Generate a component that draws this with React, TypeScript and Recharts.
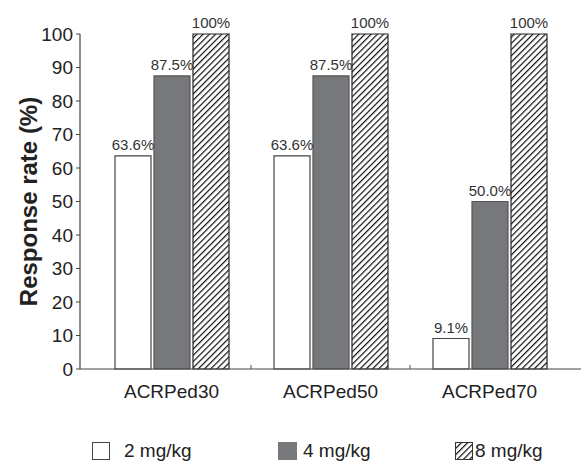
import React from 'react';
import { BarChart, Bar, XAxis, YAxis, LabelList, Legend } from 'recharts';

const categories = ['ACRPed30', 'ACRPed50', 'ACRPed70'];
const dose2 = [63.6, 63.6, 9.1];
const dose4 = [87.5, 87.5, 50.0];
const dose8 = [100, 100, 100];
const seriesNames = ['2 mg/kg', '4 mg/kg', '8 mg/kg'];
const yTicks = [0, 10, 20, 30, 40, 50, 60, 70, 80, 90, 100];

const data = categories.map((name, i) => ({
  name,
  d2: dose2[i],
  d4: dose4[i],
  d8: dose8[i],
}));

const FONT = '"Liberation Sans", Arial, Helvetica, sans-serif';
const GRAY = '#77787b';
const CHART_W = 581;
const Y_W = 80;
const X_PAD = 12;

const fmt = (v: number) => (v === 100 ? '100%' : v.toFixed(1) + '%');

const YLabel = (props: any) => {
  const vb = props.viewBox || { x: 0, y: 0, height: 0 };
  const cx = 37;
  const cy = vb.y + vb.height / 2;
  return (
    <text
      x={cx}
      y={cy}
      transform={`rotate(-90 ${cx} ${cy})`}
      textAnchor="middle"
      fontFamily={FONT}
      fontWeight="bold"
      fontSize={24}
      fill="#222"
    >
      Response rate (%)
    </text>
  );
};

// category label plus a small inward tick at the right edge of each band (except the last)
const CatTick = (props: any) => {
  const { payload } = props;
  const x = Number(props.x);
  const y = Number(props.y);
  const idx = categories.indexOf(payload.value);
  let half = Number(payload.offset);
  if (!Number.isFinite(half) || half <= 0) {
    const w = Number(props.width);
    half = (Number.isFinite(w) && w > 0 ? w - 2 * X_PAD : CHART_W - Y_W - 2 * X_PAD) / categories.length / 2;
  }
  const axisY = y - 16;
  const tx = x + half;
  return (
    <g>
      {idx >= 0 && idx < categories.length - 1 && (
        <line x1={tx} x2={tx} y1={axisY} y2={axisY - 4} stroke="#555" strokeWidth={1} />
      )}
      <text x={x} y={y} dy="0.71em" textAnchor="middle" fontFamily={FONT} fontSize={19} fill="#222">
        {payload.value}
      </text>
    </g>
  );
};

const Swatch = ({ kind }: { kind: number }) => (
  <svg width={19} height={18} style={{ display: 'block' }}>
    <defs>
      <pattern id="lg-hatch" patternUnits="userSpaceOnUse" width={4.4} height={4.4} patternTransform="rotate(45)">
        <rect width={4.4} height={4.4} fill="#fff" />
        <line x1={0} y1={0} x2={0} y2={4.4} stroke="#111" strokeWidth={2.4} />
      </pattern>
    </defs>
    {kind === 0 && <rect x={0.5} y={0.5} width={17} height={17} fill="#fff" stroke="#444" />}
    {kind === 1 && <rect x={0} y={0} width={19} height={18} fill={GRAY} />}
    {kind === 2 && <rect x={0.5} y={0.5} width={17} height={17} fill="url(#lg-hatch)" stroke="#333" />}
  </svg>
);

const legendLeft = [92, 278, 455];
const legendGap = [13, 6, 1];

const LegendContent = () => (
  <div style={{ position: 'relative', width: CHART_W, height: 40 }}>
    {seriesNames.map((s, i) => (
      <div
        key={s}
        style={{
          position: 'absolute',
          left: legendLeft[i],
          top: 20,
          display: 'flex',
          alignItems: 'center',
          fontFamily: FONT,
          fontSize: 19,
          color: '#222',
          lineHeight: '18px',
        }}
      >
        <Swatch kind={i} />
        <span style={{ marginLeft: legendGap[i] }}>{s}</span>
      </div>
    ))}
  </div>
);

export default function App() {
  return (
    <div style={{ position: 'absolute', left: 0, top: 0, width: CHART_W, height: 462, background: '#fff' }}>
      <BarChart
        width={CHART_W}
        height={462}
        data={data}
        margin={{ top: 34, right: 0, left: 0, bottom: 0 }}
        barSize={36}
        barGap={3}
      >
        <defs>
          <pattern id="hatch" patternUnits="userSpaceOnUse" width={4.4} height={4.4} patternTransform="rotate(45)">
            <rect width={4.4} height={4.4} fill="#fff" />
            <line x1={0} y1={0} x2={0} y2={4.4} stroke="#111" strokeWidth={2.4} />
          </pattern>
        </defs>
        <XAxis
          dataKey="name"
          type="category"
          height={53}
          padding={{ left: X_PAD, right: X_PAD }}
          axisLine={{ stroke: '#444', strokeWidth: 1.2 }}
          tickLine={false}
          tickSize={6}
          tickMargin={10}
          interval={0}
          tick={CatTick}
        />
        <YAxis
          width={Y_W}
          domain={[0, 100]}
          ticks={yTicks}
          interval={0}
          axisLine={{ stroke: '#444', strokeWidth: 1.2 }}
          tickLine={{ stroke: '#444' }}
          tickSize={4}
          tickMargin={3}
          tick={{ fontFamily: FONT, fontSize: 19, fill: '#222' }}
          label={<YLabel />}
        />
        <Legend verticalAlign="bottom" height={40} wrapperStyle={{ left: 0, width: CHART_W }} content={<LegendContent />} />
        <Bar dataKey="d2" name={seriesNames[0]} fill="#fff" stroke="#444" strokeWidth={1.2} isAnimationActive={false}>
          <LabelList dataKey="d2" position="top" offset={6} formatter={fmt} style={{ fontFamily: FONT, fontSize: 15, fill: '#333' }} />
        </Bar>
        <Bar dataKey="d4" name={seriesNames[1]} fill={GRAY} stroke="#555" strokeWidth={1.2} isAnimationActive={false}>
          <LabelList dataKey="d4" position="top" offset={6} formatter={fmt} style={{ fontFamily: FONT, fontSize: 15, fill: '#333' }} />
        </Bar>
        <Bar dataKey="d8" name={seriesNames[2]} fill="url(#hatch)" stroke="#222" strokeWidth={1.2} isAnimationActive={false}>
          <LabelList dataKey="d8" position="top" offset={6} formatter={fmt} style={{ fontFamily: FONT, fontSize: 15, fill: '#333' }} />
        </Bar>
      </BarChart>
    </div>
  );
}
